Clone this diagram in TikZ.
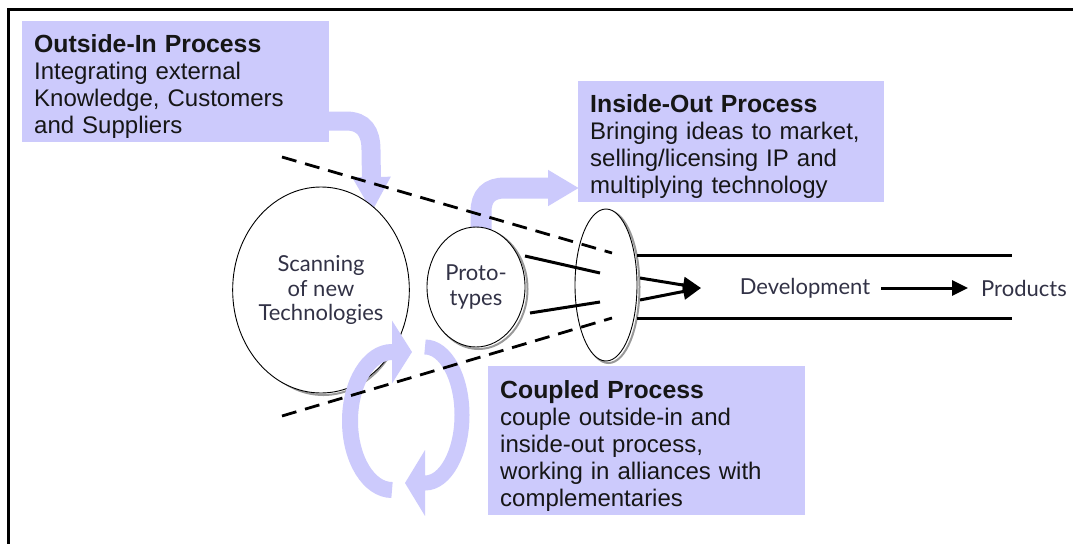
\documentclass[tikz,border=0pt]{standalone}
\usepackage{fontspec}
\setmainfont{Liberation Sans}
\newfontfamily\gill{Lato}
\usetikzlibrary{shapes.geometric,arrows.meta}
\definecolor{lav}{RGB}{204,202,252}
\definecolor{txt}{RGB}{50,50,70}
\definecolor{boxtxt}{RGB}{22,22,22}
\begin{document}
\begin{tikzpicture}[x=1pt,y=-1pt,
  pbox/.style={fill=lav, draw=none, anchor=north west, align=left, inner xsep=12pt, inner ysep=0pt, font=\fontsize{24}{27}\selectfont, text=boxtxt, execute at begin node={\rule{0pt}{28pt}}},
  band/.style={draw=lav, line width=#1},
  ell/.style={ellipse, draw=black, line width=0.9pt, fill=white, inner sep=0pt, outer sep=0pt},
  shadowell/.style={draw=black!40, line width=2pt},
  dashline/.style={line width=2.8pt, dash pattern=on 15pt off 9pt},
  solidline/.style={line width=3pt},
  lbl/.style={font=\gill\fontsize{22}{24.5}\selectfont, text=txt, align=center}
]
\useasboundingbox (0,0) rectangle (1073,544);
\fill[white] (0,0) rectangle (1073,544);
% frame
\draw[line width=3pt] (1073,9) -- (8,9) -- (8,544);

% named coordinates
\coordinate (oiS) at (300,121);
\coordinate (oiT) at (372,212);
\coordinate (ioS) at (481,240);
\coordinate (ioT) at (579,188);
\coordinate (d1s) at (282,157);
\coordinate (d1e) at (612,253);
\coordinate (d2s) at (282,416);
\coordinate (d2e) at (612,318);
\coordinate (l1s) at (525,256);
\coordinate (l1e) at (600,273);
\coordinate (l2s) at (530,313);
\coordinate (l2e) at (600,302);
\coordinate (h1s) at (637,255);
\coordinate (h1e) at (1012,255);
\coordinate (h2s) at (637,318);
\coordinate (h2e) at (1012,318);
\coordinate (a1s) at (640,278);
\coordinate (a2s) at (640,300);
\coordinate (conv) at (701,288);
\coordinate (cpL) at (392,490);
\coordinate (cpR) at (425,347);

% outside-in and inside-out bands
\draw[band=19pt, -{Triangle[length=35pt,width=36pt]}] (oiS) -- (346,121) .. controls (364,121) and (371,132) .. (371,150) -- (oiT);
\draw[band=21pt, -{Triangle[length=31pt,width=34pt]}] (ioS) -- (481,212) .. controls (481,196) and (489,188) .. (505,188) -- (ioT);

% ellipses with shadows
\draw[shadowell] (323.5,292) ellipse [x radius=84, y radius=103];
\node[ell, lbl, minimum width=168pt, minimum height=206pt] (scan) at (321,290) {Scanning\\of new\\Technologies};
\draw[shadowell] (478.5,289) ellipse [x radius=49, y radius=60];
\node[ell, lbl, minimum width=98pt, minimum height=120pt] (proto) at (476,287) {Proto-\\types};
\draw[shadowell] (608.5,287) ellipse [x radius=31, y radius=76];
\node[ell, minimum width=62pt, minimum height=152pt] (funnel) at (606,285) {};

% coupled circular arrows
\draw[band=16pt, -{Triangle[length=20pt,width=62pt]}] (cpL) arc[start angle=90, end angle=270, x radius=42, y radius=69] -- ++(20,0);
\draw[band=15pt, -{Triangle[length=20pt,width=65pt]}] (cpR) arc[start angle=270, end angle=450, x radius=37, y radius=68] -- ++(-20,0);

% funnel lines
\draw[dashline] (d1s) -- (d1e);
\draw[dashline] (d2s) -- (d2e);
\draw[solidline] (l1s) -- (l1e);
\draw[solidline] (l2s) -- (l2e);
\draw[solidline] (h1s) -- (h1e);
\draw[solidline] (h2s) -- (h2e);
\draw[solidline, -{Triangle[length=18pt,width=16pt]}] (a1s) -- (conv);
\draw[solidline, -{Triangle[length=18pt,width=16pt]}] (a2s) -- (conv);

% development -> products
\node[lbl, inner sep=0pt] (dev) at (805,288) {Development};
\node[lbl, inner sep=0pt, anchor=west] (prod) at (981,288) {Products};
\draw[solidline, -{Triangle[length=16pt,width=15pt]}] ([xshift=11pt]dev.east) -- ([xshift=-13pt]prod.west);

% text boxes
\node[pbox, text width=283pt, minimum height=121pt] (outin) at (22,21) {{\fontsize{24.8}{27}\selectfont\bfseries Outside-In Process}\\Integrating external\\Knowledge, Customers\\and Suppliers};
\node[pbox, text width=282pt, minimum height=121pt] (inout) at (578,81) {{\fontsize{24.8}{27}\selectfont\bfseries Inside-Out Process}\\Bringing ideas to market,\\selling/licensing IP and\\multiplying technology};
\node[pbox, text width=293pt, minimum height=149pt] (coupled) at (488,366) {{\fontsize{24.8}{27}\selectfont\bfseries Coupled Process}\\couple outside-in and\\inside-out process,\\working in alliances with\\complementaries};
\end{tikzpicture}
\end{document}
